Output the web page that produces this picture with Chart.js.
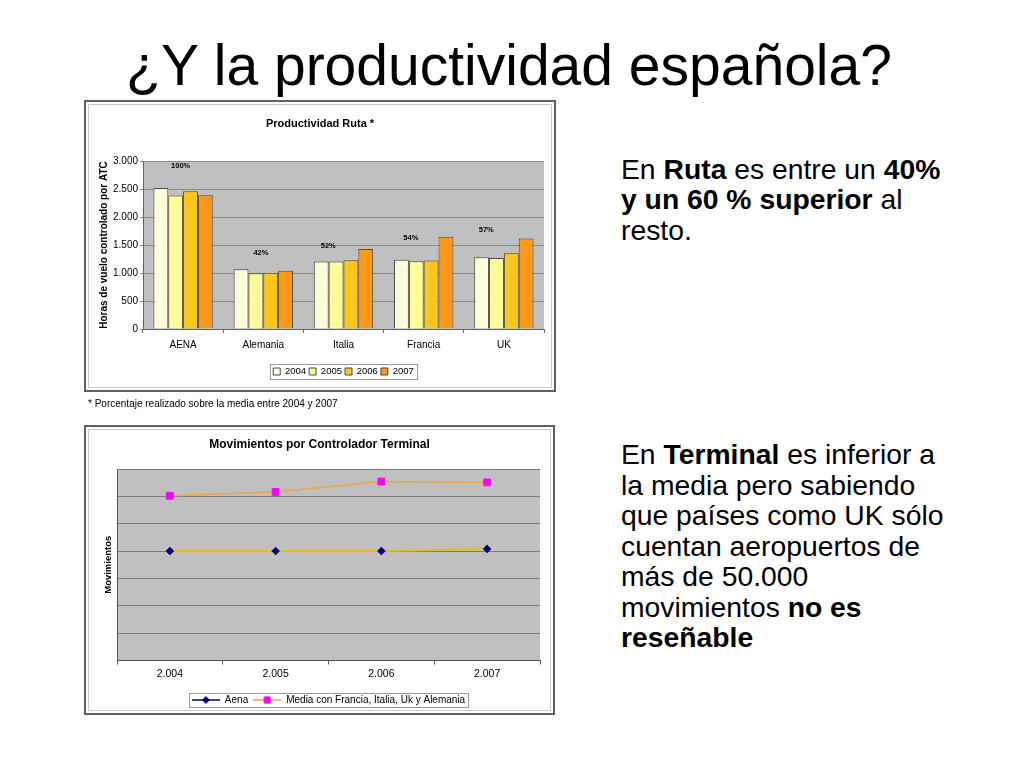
<!DOCTYPE html>
<html>
<head>
<meta charset="utf-8">
<script src="https://cdn.jsdelivr.net/npm/chart.js@4.4.1/dist/chart.umd.min.js"></script>
<style>
html,body{margin:0;padding:0;background:#fff;}
body{width:1024px;height:768px;position:relative;overflow:hidden;font-family:'Liberation Sans',Arial,Helvetica,sans-serif;color:#000;}
.abs{position:absolute;}
#title{left:0;width:1018px;text-align:center;top:37px;font-size:57px;line-height:57px;white-space:nowrap;}
.txt{left:621px;font-size:28.3px;line-height:30.5px;white-space:nowrap;}
#t1{top:153.5px;}
#t2{top:439px;}
#foot{left:88px;top:397px;font-size:10px;line-height:14px;white-space:nowrap;}
.frame{position:absolute;box-sizing:border-box;border:2px solid #5f5f5f;pointer-events:none;}
.inner{position:absolute;box-sizing:border-box;border:1px solid #cacaca;pointer-events:none;}
canvas{position:absolute;}
</style>
</head>
<body>
<div id="title" class="abs">¿Y la productividad española?</div>

<div id="t1" class="abs txt">En <b>Ruta</b> es entre un <b>40%</b><br><b>y un 60 % superior</b> al<br>resto.</div>
<div id="t2" class="abs txt">En <b>Terminal</b> es inferior a<br>la media pero sabiendo<br>que países como UK sólo<br>cuentan aeropuertos de<br>más de 50.000<br>movimientos <b>no es</b><br><b>reseñable</b></div>

<canvas id="c1" width="472" height="292" style="left:84px;top:100px;width:472px;height:292px;"></canvas>
<div class="frame" style="left:84px;top:100px;width:472px;height:292px;"></div>
<div class="inner" style="left:88px;top:104px;width:464px;height:284px;"></div>

<div id="foot" class="abs">* Porcentaje realizado sobre la media entre 2004 y 2007</div>

<canvas id="c2" width="471" height="290" style="left:84px;top:425px;width:471px;height:290px;"></canvas>
<div class="frame" style="left:84px;top:425px;width:471px;height:290px;"></div>
<div class="inner" style="left:88px;top:429px;width:463px;height:282px;"></div>

<script>
// ---------- DATA ----------
const categories = ['AENA', 'Alemania', 'Italia', 'Francia', 'UK'];
const years = ['2004', '2005', '2006', '2007'];
const ruta2004 = [2520, 1065, 1205, 1235, 1280];
const ruta2005 = [2385, 995, 1205, 1210, 1270];
const ruta2006 = [2460, 1005, 1228, 1222, 1352];
const ruta2007 = [2390, 1040, 1430, 1646, 1616];
const pctLabels = ['100%', '42%', '52%', '54%', '57%'];
const pctLabelLevel = [2920, 1350, 1490, 1630, 1770];
const pctLabelShift = [-0.03, -0.03, -0.19, -0.16, -0.22];

const movYears = ['2.004', '2.005', '2.006', '2.007'];
const aenaMov = [4000, 4000, 4000, 4080];
const mediaMov = [6020, 6160, 6540, 6510];
const movSeriesNames = ['Aena', 'Media con Francia, Italia, Uk y Alemania'];

// ---------- STYLE ----------
const SANS = "'Liberation Sans',Arial,sans-serif";
Chart.defaults.font.family = SANS;
Chart.defaults.color = '#000';
Chart.defaults.animation = false;

const fmt = v => String(v).replace(/\B(?=(\d{3})+(?!\d))/g, '.');

const plotBg = {
  id: 'plotBg',
  beforeDraw(chart, args, opts) {
    const {ctx, chartArea: a} = chart;
    ctx.save();
    ctx.fillStyle = opts.color || '#c0c0c0';
    ctx.fillRect(a.left, a.top, a.right - a.left, a.bottom - a.top);
    ctx.restore();
  }
};
const legendFrame = {
  id: 'legendFrame',
  afterDraw(chart, args, opts) {
    const hb = chart.legend && chart.legend.legendHitBoxes;
    if (!hb || !hb.length) return;
    let l = Infinity, r = -Infinity, t = Infinity, b = -Infinity;
    hb.forEach(h => { l = Math.min(l, h.left); r = Math.max(r, h.left + h.width); t = Math.min(t, h.top); b = Math.max(b, h.top + h.height); });
    const px = opts.padX || 3, py = opts.padY || 2;
    const ctx = chart.ctx;
    ctx.save();
    ctx.strokeStyle = opts.color || '#999';
    ctx.lineWidth = 1;
    ctx.strokeRect(Math.round(l - px) + 0.5, Math.round(t - py) + 0.5, Math.round(r - l + 2 * px), Math.round(b - t + 2 * py));
    ctx.restore();
  }
};
const pctPlugin = {
  id: 'pctPlugin',
  afterDatasetsDraw(chart) {
    const {ctx, scales: {x, y}} = chart;
    ctx.save();
    ctx.font = "bold 7.5px " + SANS;
    ctx.fillStyle = '#000';
    ctx.textAlign = 'center';
    ctx.textBaseline = 'middle';
    pctLabels.forEach((t, i) => {
      ctx.fillText(t, x.getPixelForValue(i + pctLabelShift[i]), y.getPixelForValue(pctLabelLevel[i]));
    });
    ctx.restore();
  }
};

// ---------- CHART 1 ----------
const barColors = ['#FFFFDA', '#FFFF99', '#FFC61A', '#FF9719'];
const rutaSeries = [ruta2004, ruta2005, ruta2006, ruta2007];
new Chart(document.getElementById('c1'), {
  type: 'bar',
  data: {
    labels: categories,
    datasets: years.map((yr, k) => ({
      label: yr,
      data: rutaSeries[k],
      backgroundColor: barColors[k],
      borderColor: '#4a4a4a',
      borderWidth: 1,
      categoryPercentage: 0.74,
      barPercentage: 1.0
    }))
  },
  options: {
    responsive: false,
    layout: {padding: {left: 0, right: 0, top: 0, bottom: 5.75}},
    scales: {
      x: {
        grid: {offset: true, drawOnChartArea: false, drawTicks: true, tickLength: 4, color: '#666'},
        border: {color: '#666'},
        ticks: {font: {family: SANS, size: 10}, color: '#000', padding: 6},
        afterFit: s => { s.height = 34.75; }
      },
      y: {
        min: 0, max: 3000,
        ticks: {stepSize: 500, font: {family: SANS, size: 10}, color: '#000', padding: 2, callback: v => fmt(v)},
        grid: {color: '#8a8a8a', tickLength: 3},
        border: {color: '#666'},
        title: {display: true, text: 'Horas de vuelo controlado por ATC', font: {family: SANS, size: 10, weight: 'bold'}, color: '#000', padding: {top: 14, bottom: 0}},
        afterFit: s => { s.width = 59; }
      },
      yR: {
        position: 'right', display: true,
        grid: {display: false}, ticks: {display: false}, border: {display: false},
        afterFit: s => { s.width = 12; }
      }
    },
    plugins: {
      title: {display: true, text: 'Productividad Ruta *', font: {family: SANS, size: 11, weight: 'bold'}, color: '#000', padding: {top: 17.4, bottom: 30.4}},
      legend: {position: 'bottom', fullSize: false, labels: {boxWidth: 7, boxHeight: 7, padding: 3, font: {family: SANS, size: 9.5}, color: '#000'}},
      tooltip: {enabled: false},
      plotBg: {color: '#c0c0c0'},
      legendFrame: {color: '#9a9a9a', padX: 3, padY: 2.5}
    }
  },
  plugins: [plotBg, legendFrame, pctPlugin]
});

// ---------- CHART 2 ----------
const lineColors = ['#E6C200', '#F2A541'];
const legendLineColors = ['#000080', '#F2A541'];
const markerColors = ['#000080', '#FF00FF'];
const markerStyles = ['rectRot', 'rect'];
const markerRadius = [3.8, 4.8];

function makeIcon(k) {
  const c = document.createElement('canvas');
  c.width = 28; c.height = 10;
  const g = c.getContext('2d');
  g.strokeStyle = legendLineColors[k];
  g.lineWidth = 1.5;
  g.beginPath(); g.moveTo(0, 5); g.lineTo(28, 5); g.stroke();
  g.fillStyle = markerColors[k];
  g.strokeStyle = markerColors[k];
  g.lineWidth = 1;
  if (Chart.helpers && Chart.helpers.drawPoint) {
    Chart.helpers.drawPoint(g, {pointStyle: markerStyles[k], radius: markerRadius[k] * 0.9, borderWidth: 1, rotation: 0}, 14, 5);
  }
  return c;
}
const icons = [makeIcon(0), makeIcon(1)];
const movSeries = [aenaMov, mediaMov];

new Chart(document.getElementById('c2'), {
  type: 'line',
  data: {
    labels: movYears,
    datasets: movSeriesNames.map((nm, k) => ({
      label: nm,
      data: movSeries[k],
      borderColor: lineColors[k],
      borderWidth: k === 0 ? 2 : 1.5,
      backgroundColor: markerColors[k],
      pointStyle: markerStyles[k],
      pointRadius: markerRadius[k],
      pointBackgroundColor: markerColors[k],
      pointBorderColor: markerColors[k],
      pointBorderWidth: 1,
      tension: 0,
      fill: false
    }))
  },
  options: {
    responsive: false,
    layout: {padding: {left: 0, right: 0, top: 0, bottom: 0}},
    scales: {
      x: {
        offset: true,
        grid: {offset: true, drawOnChartArea: false, drawTicks: true, tickLength: 4, color: '#555'},
        border: {color: '#555'},
        ticks: {font: {family: SANS, size: 10.5}, color: '#000', padding: 3.7},
        afterFit: s => { s.height = 29.5; }
      },
      y: {
        min: 0, max: 7000,
        ticks: {display: false, stepSize: 1000},
        grid: {color: '#7a7a7a', drawTicks: false},
        border: {color: '#555'},
        title: {display: true, text: 'Movimientos', font: {family: SANS, size: 9.5, weight: 'bold'}, color: '#000', padding: {top: 18.3, bottom: 0}},
        afterFit: s => { s.width = 33; }
      },
      yR: {
        position: 'right', display: true,
        grid: {display: false}, ticks: {display: false}, border: {display: false},
        afterFit: s => { s.width = 15; }
      }
    },
    plugins: {
      title: {display: true, text: 'Movimientos por Controlador Terminal', font: {family: SANS, size: 12, weight: 'bold'}, color: '#000', padding: {top: 12.8, bottom: 16.8}},
      legend: {
        position: 'bottom', fullSize: false,
        labels: {
          usePointStyle: true, pointStyleWidth: 28, padding: 5,
          font: {family: SANS, size: 10}, color: '#000',
          generateLabels: chart => Chart.defaults.plugins.legend.labels.generateLabels(chart).map((it, i) => Object.assign(it, {pointStyle: icons[i]}))
        }
      },
      tooltip: {enabled: false},
      plotBg: {color: '#c0c0c0'},
      legendFrame: {color: '#9a9a9a', padX: 3, padY: 2}
    }
  },
  plugins: [plotBg, legendFrame]
});
</script>
</body>
</html>
